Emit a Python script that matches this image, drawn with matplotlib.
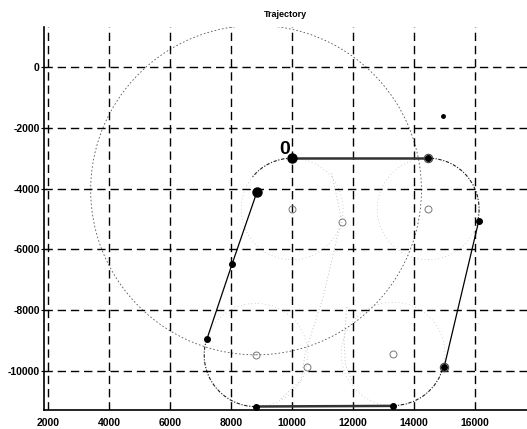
import matplotlib
matplotlib.use("Agg")
import matplotlib.pyplot as plt
from matplotlib.patches import Arc, Circle

plt.rcParams["font.family"] = ["Liberation Sans", "DejaVu Sans"]
plt.rcParams["axes.unicode_minus"] = False

# --- data ---
start_x, start_y = 10000, -3000
end_x, end_y = 8850, -4110

# waypoints along the path
way_x = [14460, 16120, 14985, 13310, 8820, 7210, 8035]
way_y = [-3000, -5060, -9870, -11150, -11170, -8950, -6480]
ringed_x = [14460, 14985]
ringed_y = [-3000, -9870]

# straight legs of the path
leg_x = [[10000, 14460], [16120, 14985], [13310, 8820], [7210, 8035, 8850]]
leg_y = [[-3000, -3000], [-5060, -9870], [-11150, -11170], [-8950, -6480, -4110]]
leg_heavy = [True, False, True, False]

# turning arcs (centre, radius, start / end angle in degrees)
turn_cx = [14460, 13310, 8820, 10000]
turn_cy = [-4670, -9440, -9475, -4670]
turn_r = [1670, 1700, 1700, 1670]
turn_from = [-13, -90, 162, 90]
turn_to = [90, -14, 270, 142]

# faint construction circles around the turn centres
circ_cx = [10000, 14460, 13310, 8820]
circ_cy = [-4670, -4670, -9440, -9475]
circ_r = [1670, 1670, 1700, 1700]

# large circle
big_cx, big_cy, big_r = 8820, -4050, 5420

# circle centres
centre_x = [10000, 14460, 11640, 8820, 13310, 10490]
centre_y = [-4670, -4670, -5100, -9475, -9440, -9870]

# faint guide lines
guide1_x = [11300, 11640, 11480, 11250, 11020, 10430, 10300, 9600]
guide1_y = [-3500, -5100, -5590, -6580, -7570, -9410, -10300, -10950]
guide2_x = [11800, 11700, 11750, 12000]
guide2_y = [-7900, -9000, -9800, -10400]

stray_x, stray_y = 14950, -1600

x_ticks = [2000, 4000, 6000, 8000, 10000, 12000, 14000, 16000]
y_ticks = [0, -2000, -4000, -6000, -8000, -10000]

# --- figure ---
fig = plt.figure(figsize=(5.27, 4.29), dpi=100)
ax = fig.add_axes([44 / 527, 19 / 429, 483 / 527, 383 / 429])
ax.set_xlim(1870, 17700)
ax.set_ylim(-11285, 1316)

faint = "#aaaaaa"

# construction circles
for cx, cy, r in zip(circ_cx, circ_cy, circ_r):
    ax.add_patch(Circle((cx, cy), r, fill=False, ec=faint, lw=0.5, ls=(0, (1, 4))))
ax.add_patch(Circle((big_cx, big_cy), big_r, fill=False, ec="#555555",
                    lw=0.6, ls=(0, (2, 2.5))))

ax.plot(guide1_x, guide1_y, color=faint, lw=0.6, ls=(0, (1, 3)))
ax.plot(guide2_x, guide2_y, color=faint, lw=0.6, ls=(0, (1, 3)))

# path arcs
for cx, cy, r, t1, t2 in zip(turn_cx, turn_cy, turn_r, turn_from, turn_to):
    ax.add_patch(Arc((cx, cy), 2 * r, 2 * r, theta1=t1, theta2=t2,
                     ec="#222222", lw=0.8, ls=(0, (3, 1.5, 1, 1.5))))

# straight legs
for xs, ys, heavy in zip(leg_x, leg_y, leg_heavy):
    if heavy:
        ax.plot(xs, ys, color="#333333", lw=1.8, solid_capstyle="butt")
    else:
        ax.plot(xs, ys, color="black", lw=0.9)

ax.plot(centre_x, centre_y, "o", ms=5, mfc="none", mec="#777777", mew=0.7)
ax.plot(ringed_x, ringed_y, "o", ms=6, mfc="none", mec="#444444", mew=0.8)
ax.plot(way_x, way_y, "o", ms=4, color="black")
ax.plot([start_x, end_x], [start_y, end_y], "o", ms=6.5, color="black")
ax.plot(stray_x, stray_y, "o", ms=2.5, color="black")
ax.text(9770, -2860, "0", fontsize=14, fontweight="bold", ha="center", va="baseline")

ax.set_xticks(x_ticks)
ax.set_yticks(y_ticks)
ax.grid(True, color="black", lw=1.0, ls=(0, (6, 3.5)))
ax.tick_params(direction="inout", length=4, width=0.8, labelsize=7.5, pad=1)
ax.tick_params(axis="x", length=0, pad=6)
for lbl in ax.get_xticklabels() + ax.get_yticklabels():
    lbl.set_fontweight("bold")
ax.spines["top"].set_visible(False)
ax.spines["right"].set_visible(False)
ax.spines["left"].set_linewidth(1.2)
ax.spines["bottom"].set_linewidth(1.2)
ax.set_title("Trajectory", fontsize=6.5, fontweight="bold", pad=7)

plt.savefig("out.png", dpi=100)
